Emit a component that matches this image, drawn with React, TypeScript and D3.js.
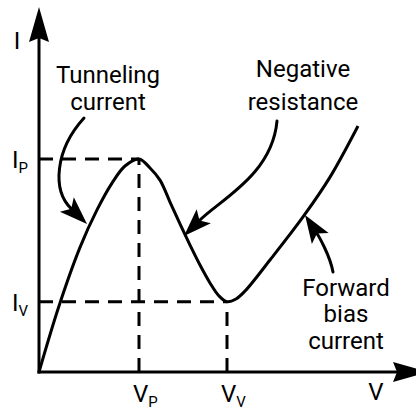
import React from "react";
import * as d3 from "d3";

// I–V characteristic of a tunnel diode (arbitrary units: Vp = 1, Ip = 1)
const voltage = [0, 0.2, 0.41, 0.58, 0.73, 0.86, 1.0, 1.11, 1.21, 1.31, 1.41, 1.51, 1.61, 1.71, 1.8, 1.88, 1.97, 2.06, 2.31, 2.64, 2.91, 3.19];
const current = [0, 0.31, 0.585, 0.761, 0.887, 0.967, 1.0, 0.958, 0.901, 0.798, 0.695, 0.596, 0.502, 0.418, 0.357, 0.33, 0.343, 0.38, 0.526, 0.728, 0.915, 1.155];

const peakV = 1.0;
const peakI = 1.0;
const valleyV = 1.88;
const valleyI = 0.33;
const axisMaxV = 3.89;
const axisMaxI = 1.714;

const xTickLabels = [
  { main: "V", sub: "P", value: peakV },
  { main: "V", sub: "V", value: valleyV },
];
const yTickLabels = [
  { main: "I", sub: "P", value: peakI },
  { main: "I", sub: "V", value: valleyI },
];

// annotations: label lines, label anchor (data units) and arrow bezier (data units)
const annotations = [
  {
    lines: ["Tunneling", "current"],
    anchor: [0.69, 1.357],
    arrow: [[0.45, 1.192], [0.16, 1.042], [0.13, 0.854], [0.48, 0.695]],
  },
  {
    lines: ["Negative", "resistance"],
    anchor: [2.64, 1.385],
    arrow: [[2.38, 1.178], [2.33, 0.925], [1.81, 0.808], [1.45, 0.638]],
  },
  {
    lines: ["Forward", "bias", "current"],
    anchor: [3.07, 0.357],
    arrow: [[2.94, 0.469], [2.91, 0.549], [2.79, 0.643], [2.66, 0.737]],
  },
];

const W = 416;
const H = 410;
const FONT = "Roboto, 'Noto Sans', sans-serif";

function arrowHead(tip: number[], from: number[], L: number, Wd: number, N: number) {
  const dx = tip[0] - from[0];
  const dy = tip[1] - from[1];
  const len = Math.hypot(dx, dy) || 1;
  const ux = dx / len, uy = dy / len;
  const nx = -uy, ny = ux;
  const p = d3.path();
  p.moveTo(tip[0], tip[1]);
  p.lineTo(tip[0] - L * ux + Wd * nx, tip[1] - L * uy + Wd * ny);
  p.lineTo(tip[0] - N * ux, tip[1] - N * uy);
  p.lineTo(tip[0] - L * ux - Wd * nx, tip[1] - L * uy - Wd * ny);
  p.closePath();
  return { d: p.toString(), back: [tip[0] - N * ux, tip[1] - N * uy] };
}

export default function App() {
  const x = d3.scaleLinear().domain([0, 1]).range([39, 139]);
  const y = d3.scaleLinear().domain([0, 1]).range([372, 159]);

  const pts: [number, number][] = voltage.map((v, i) => [v, current[i]]);
  const line = d3
    .line<[number, number]>()
    .x((d) => x(d[0]))
    .y((d) => y(d[1]))
    .curve(d3.curveCatmullRom.alpha(0.5));

  const x0 = x(0), y0 = y(0);
  const yAxisHead = arrowHead([x0, y(axisMaxI)], [x0, y0], 35, 10, 31);
  const xAxisHead = arrowHead([x(axisMaxV), y0], [x0, y0], 35, 10, 31);

  return (
    <svg
      width={W}
      height={H}
      style={{ position: "absolute", left: 0, top: 0, background: "#fff" }}
      fontFamily={FONT}
    >
      {/* dashed guides */}
      <g stroke="#000" strokeWidth={3} strokeDasharray="14 9" fill="none">
        <line x1={x0} y1={y(peakI)} x2={x(peakV)} y2={y(peakI)} />
        <line x1={x(peakV)} y1={y0} x2={x(peakV)} y2={y(peakI)} />
        <line x1={x0} y1={y(valleyI)} x2={x(valleyV)} y2={y(valleyI)} />
        <line x1={x(valleyV)} y1={y0} x2={x(valleyV)} y2={y(valleyI)} />
      </g>

      {/* axes */}
      <g stroke="#000" strokeWidth={3}>
        <line x1={x0} y1={y0 + 1.5} x2={x0} y2={yAxisHead.back[1]} />
        <line x1={x0 - 1.5} y1={y0} x2={xAxisHead.back[0]} y2={y0} />
      </g>
      <path d={yAxisHead.d} fill="#000" />
      <path d={xAxisHead.d} fill="#000" />

      {/* curve */}
      <path d={line(pts) || ""} fill="none" stroke="#000" strokeWidth={3} strokeLinejoin="round" />

      {/* axis labels */}
      <text x={17} y={49} fontSize={24} textAnchor="middle">I</text>
      <text x={376} y={400} fontSize={24} textAnchor="middle">V</text>

      {yTickLabels.map((t, i) => (
        <text key={"y" + i} x={12} y={y(t.value) + 9} fontSize={24}>
          {t.main}
          <tspan fontSize={15} dy={5}>{t.sub}</tspan>
        </text>
      ))}
      {xTickLabels.map((t, i) => (
        <text key={"x" + i} x={x(t.value) - 6} y={402} fontSize={24}>
          {t.main}
          <tspan fontSize={15} dy={5}>{t.sub}</tspan>
        </text>
      ))}

      {/* annotations */}
      {annotations.map((a, i) => {
        const P = a.arrow.map((p) => [x(p[0]), y(p[1])]);
        const head = arrowHead(P[3], P[2], 28, 10, 22);
        const p = d3.path();
        p.moveTo(P[0][0], P[0][1]);
        p.bezierCurveTo(P[1][0], P[1][1], P[2][0], P[2][1], head.back[0], head.back[1]);
        const lh = i === 2 ? 26.5 : i === 1 ? 33 : 27;
        return (
          <g key={"a" + i}>
            <path d={p.toString()} fill="none" stroke="#000" strokeWidth={3} strokeLinecap="round" />
            <path d={head.d} fill="#000" />
            {a.lines.map((t, j) => (
              <text
                key={j}
                x={x(a.anchor[0])}
                y={y(a.anchor[1]) + j * lh}
                fontSize={24}
                textAnchor="middle"
              >
                {t}
              </text>
            ))}
          </g>
        );
      })}
    </svg>
  );
}
